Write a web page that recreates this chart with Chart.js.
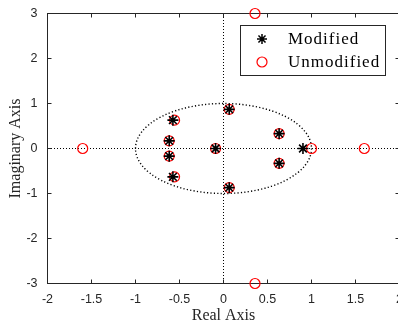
<!DOCTYPE html>
<html>
<head>
<meta charset="utf-8">
<title>Pole-zero map</title>
<script src="https://cdn.jsdelivr.net/npm/chart.js@4.4.0/dist/chart.umd.min.js"></script>
<style>
  html, body { margin: 0; padding: 0; overflow: hidden; background: #fff; }
  #wrap { width: 398px; height: 324px; overflow: hidden; }
</style>
</head>
<body>
<div id="wrap"><canvas id="pz" width="410" height="324"></canvas></div>
<script>
// TICKS
var xTicks = [-2, -1.5, -1, -0.5, 0, 0.5, 1, 1.5, 2];
var yTicks = [-3, -2, -1, 0, 1, 2, 3];

// SERIES NAMES
var seriesNames = ['Modified', 'Unmodified'];

// modified poles (black asterisks)
var modRe = [-0.575, -0.575, -0.617, -0.617, -0.09, 0.065, 0.065, 0.632, 0.632, 0.903];
var modIm = [0.63, -0.63, 0.17, -0.17, 0, 0.87, -0.87, 0.33, -0.33, 0];

// unmodified poles (red circles)
var unRe = [-0.556, -0.556, -0.617, -0.617, -0.09, 0.065, 0.065, 0.632, 0.632, 1.0, 1.6, -1.6, 0.358, 0.358];
var unIm = [0.63, -0.63, 0.17, -0.17, 0, 0.87, -0.87, 0.33, -0.33, 0, 0, 0, 3, -3];

function toPoints(re, im) {
    return re.map(function (r, i) { return {x: r, y: im[i]}; });
}

// box, inward ticks, dotted axes and unit circle
const frame = {
    id: 'frame',
    beforeDatasetsDraw(chart) {
        const ctx = chart.ctx, a = chart.chartArea;
        const x = chart.scales.x, y = chart.scales.y;
        const x0 = x.getPixelForValue(0), y0 = y.getPixelForValue(0);
        ctx.save();
        ctx.strokeStyle = '#000';
        ctx.lineWidth = 1;
        ctx.setLineDash([1, 2]);
        ctx.beginPath();
        ctx.moveTo(x0, Math.round(a.top)); ctx.lineTo(x0, a.bottom);
        ctx.moveTo(Math.round(a.left), y0); ctx.lineTo(a.right, y0);
        ctx.stroke();
        ctx.lineWidth = 1.4;
        ctx.setLineDash([1.2, 2.2]);
        ctx.beginPath();
        ctx.ellipse(x0, y0, x.getPixelForValue(1) - x0, y0 - y.getPixelForValue(1), 0, 0, Math.PI * 2);
        ctx.stroke();
        ctx.setLineDash([]);

        ctx.lineWidth = 1;
        ctx.strokeStyle = '#262626';
        ctx.strokeRect(a.left, a.top, a.right - a.left, a.bottom - a.top);
        ctx.beginPath();
        xTicks.forEach(function (v) {
            const p = x.getPixelForValue(v);
            ctx.moveTo(p, a.bottom); ctx.lineTo(p, a.bottom - 4);
            ctx.moveTo(p, a.top); ctx.lineTo(p, a.top + 4);
        });
        yTicks.forEach(function (v) {
            const p = y.getPixelForValue(v);
            ctx.moveTo(a.left, p); ctx.lineTo(a.left + 4, p);
            ctx.moveTo(a.right, p); ctx.lineTo(a.right - 4, p);
        });
        ctx.stroke();
        ctx.restore();
    }
};

// legend box inside the plot (top right)
const legendBox = {
    id: 'legendBox',
    afterDraw(chart) {
        const ctx = chart.ctx;
        ctx.save();
        ctx.fillStyle = '#fff';
        ctx.strokeStyle = '#262626';
        ctx.lineWidth = 1;
        ctx.fillRect(240.5, 25.5, 145, 50);
        ctx.strokeRect(240.5, 25.5, 145, 50);

        // asterisk
        ctx.strokeStyle = '#000';
        ctx.lineWidth = 1.5;
        ctx.beginPath();
        for (let k = 0; k < 4; k++) {
            const ang = k * Math.PI / 4;
            ctx.moveTo(262 - 5 * Math.cos(ang), 39 - 5 * Math.sin(ang));
            ctx.lineTo(262 + 5 * Math.cos(ang), 39 + 5 * Math.sin(ang));
        }
        ctx.stroke();
        // circle
        ctx.strokeStyle = '#ff0000';
        ctx.lineWidth = 1.2;
        ctx.beginPath();
        ctx.arc(262, 62, 5, 0, Math.PI * 2);
        ctx.stroke();

        ctx.fillStyle = '#000';
        ctx.font = '17px "Liberation Serif", "Times New Roman", serif';
        ctx.letterSpacing = '1px';
        ctx.textBaseline = 'middle';
        ctx.textAlign = 'left';
        ctx.fillText(seriesNames[0], 288, 40);
        ctx.fillText(seriesNames[1], 288, 63);
        ctx.restore();
    }
};

const tickFont = {family: '"Liberation Sans", Arial, sans-serif', size: 12.5};
const titleFont = {family: '"Liberation Serif", "Times New Roman", serif', size: 16, lineHeight: 1};

const pz = new Chart('pz', {
    type: 'scatter',
    data: {
        datasets: [{
            label: seriesNames[0],
            data: toPoints(modRe, modIm),
            pointStyle: 'star',
            radius: 5.5,
            borderColor: '#000',
            backgroundColor: '#000',
            borderWidth: 1.6,
            clip: false
        }, {
            label: seriesNames[1],
            data: toPoints(unRe, unIm),
            pointStyle: 'circle',
            radius: 5,
            borderColor: '#ff0000',
            backgroundColor: 'rgba(0,0,0,0)',
            borderWidth: 1.2,
            clip: false
        }]
    },
    options: {
        responsive: false,
        animation: false,
        devicePixelRatio: 1,
        layout: { padding: {left: 0, right: 10.5, top: 13.5, bottom: 0} },
        plugins: { legend: {display: false}, tooltip: {enabled: false} },
        scales: {
            x: {
                type: 'linear', min: -2, max: 2,
                afterBuildTicks: function (s) { s.ticks = xTicks.map(function (v) { return {value: v}; }); },
                afterFit: function (s) { s.height = 40.5; s.paddingLeft = 0; s.paddingRight = 0; },
                grid: {display: false, drawTicks: false},
                border: {display: false},
                ticks: {padding: 9, font: tickFont, color: '#262626', maxRotation: 0, autoSkip: false,
                        callback: function (v) { return String(v); }},
                title: {display: true, text: 'Real Axis', font: titleFont, color: '#262626', padding: {top: 0, bottom: 0}}
            },
            y: {
                type: 'linear', min: -3, max: 3,
                afterBuildTicks: function (s) { s.ticks = yTicks.map(function (v) { return {value: v}; }); },
                afterFit: function (s) { s.width = 47.5; s.paddingTop = 0; s.paddingBottom = 0; },
                grid: {display: false, drawTicks: false},
                border: {display: false},
                ticks: {padding: 10, font: tickFont, color: '#262626', autoSkip: false,
                        callback: function (v) { return String(v); }},
                title: {display: true, text: 'Imaginary Axis', font: titleFont, color: '#262626', padding: {top: 8, bottom: 0}}
            }
        }
    },
    plugins: [frame, legendBox]
});
</script>
</body>
</html>
